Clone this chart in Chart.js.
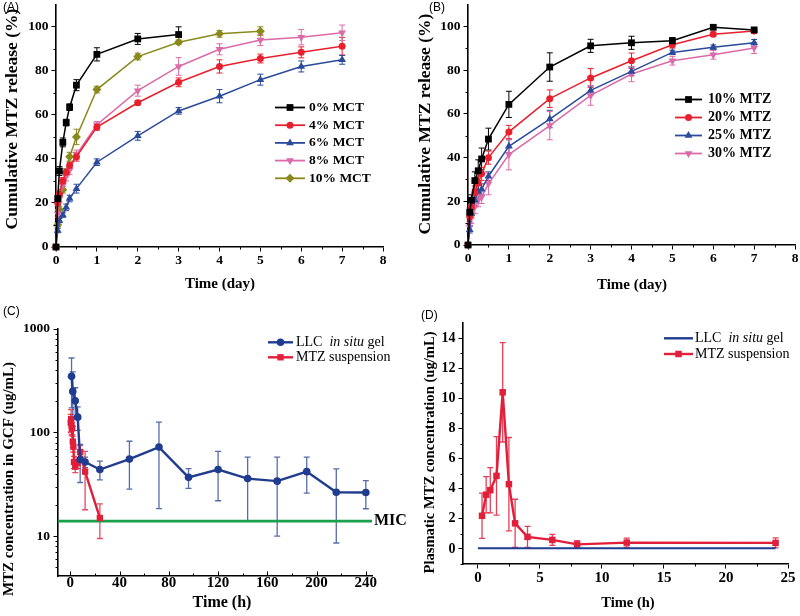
<!DOCTYPE html>
<html><head><meta charset="utf-8">
<script src="https://cdn.jsdelivr.net/npm/chart.js@4.4.1/dist/chart.umd.min.js"></script>
<style>
html,body{margin:0;padding:0;background:#fff;}
#wrap{position:relative;width:800px;height:616px;overflow:hidden;background:#fff;}
canvas{position:absolute;}
</style></head><body>
<div id="wrap">
<canvas id="cA" width="400" height="300" style="left:0;top:0"></canvas>
<canvas id="cB" width="400" height="300" style="left:400px;top:0"></canvas>
<canvas id="cD" width="400" height="316" style="left:400px;top:300px"></canvas>
<canvas id="cC" width="420" height="316" style="left:0;top:300px"></canvas>
</div>
<script>
// ---------------- DATA ----------------
// (A) release vs MCT content
const releaseTime = [0, 0.042, 0.083, 0.167, 0.25, 0.333, 0.5, 1, 2, 3, 4, 5, 6, 7];
const mctLabels = ['0% MCT', '4% MCT', '6% MCT', '8% MCT', '10% MCT'];
const mct0 = [0, 22, 34.5, 47.5, 56.5, 63.5, 73.5, 87.5, 94.5, 96.5];
const mct0Err = [0, 1.5, 2, 2, 1.5, 1.5, 2.5, 3, 2.5, 3.5];
const mct4 = [0, 20, 24, 30, 34, 37, 41, 54.5, 65.5, 74.8, 82, 85.6, 88.4, 91.2];
const mct4Err = [0, 1.5, 1.5, 1.5, 1.5, 1.5, 2, 1.5, 1, 2, 3, 2, 2.5, 4];
const mct6 = [0, 7.5, 12, 14.5, 18, 22, 26.5, 38.5, 50.5, 61.8, 68.5, 76, 82, 85];
const mct6Err = [0, 1, 1, 1, 1.5, 1.5, 2, 1.5, 2, 1.5, 3, 2.5, 2.5, 2];
const mct8 = [0, 15, 22, 28, 32, 35, 42, 55.5, 71, 82, 89.8, 94, 95.3, 97.3];
const mct8Err = [0, 1.5, 1.5, 1.5, 2, 2, 2, 1.5, 2.5, 4, 2.5, 2.5, 3.5, 3.5];
const mct10 = [0, 10, 17, 26, 34, 41, 50, 71.5, 86.5, 93, 96.8, 98];
const mct10Err = [0, 1, 1.5, 1.5, 1.5, 2, 3.5, 1.5, 1.5, 1, 1.5, 2];
// (B) release vs MTZ loading
const mtzLabels = ['10% MTZ', '20% MTZ', '25% MTZ', '30% MTZ'];
const mtz10 = [0, 15, 20.5, 29.5, 34, 39.4, 48.5, 64.4, 81.5, 91.2, 92.6, 93.5, 99.7, 98.5];
const mtz10Err = [0, 2, 2.5, 4, 5, 5, 5, 6, 6.5, 3, 3, 1.5, 1, 1];
const mtz20 = [0, 13, 17.4, 24, 28.3, 32.6, 40, 51.8, 67, 76.5, 84.4, 91.7, 96.5, 98];
const mtz20Err = [0, 2, 2.5, 3, 3, 3, 3, 3, 4, 4.3, 3.5, 1.5, 1, 1];
const mtz25 = [0, 7, 14.4, 20.5, 24.5, 25.5, 31.5, 45.2, 57.7, 70.8, 79.5, 88.2, 90.6, 92.6];
const mtz25Err = [0, 1.5, 2, 3, 3, 2.5, 2, 3, 4, 2, 2, 1, 1, 1.5];
const mtz30 = [0, 8.3, 12.9, 17.4, 20.5, 22, 28, 41.4, 54.7, 68.5, 78.3, 84.4, 87.1, 90.2];
const mtz30Err = [0, 2, 3, 3, 3, 3, 5, 7, 6.5, 4.5, 3.5, 2, 2, 2.5];
// (C) GCF concentration
const gcfLabels = ['LLC  <i>in situ</i> gel', 'MTZ suspension'];
const llcTime = [1, 2, 4, 6, 8, 12, 24, 48, 72, 96, 120, 144, 168, 192, 216, 240];
const llcGcf = [349, 250, 203, 141, 55, 52, 44, 55.5, 72.5, 37, 44, 36, 34, 42, 26.6, 26.4];
const llcGcfErr = [176, 135, 68, 36, 22, 6, 9, 27, 54, 8, 22, 22, 24, 16, 18, 8];
const suspTime = [0.333, 0.667, 1, 1.5, 2, 2.5, 3, 4, 6, 8, 12, 24];
const suspGcf = [125, 135, 115, 110, 82, 73, 52, 47, 51, 65, 42, 15];
const suspGcfErr = [25, 32, 20, 15, 10, 8, 7, 6, 6, 10, 24, 5.5];
const MIC = 14;
// (D) plasma concentration
const llcPlasmaTime = [0, 0.333, 0.667, 1, 1.5, 2, 2.5, 3, 4, 6, 8, 12, 24];
const llcPlasma = [0.05, 0.05, 0.05, 0.05, 0.05, 0.05, 0.05, 0.05, 0.05, 0.05, 0.05, 0.05, 0.05];
const suspPlasma = [2.2, 3.6, 3.9, 4.85, 10.4, 4.3, 1.7, 0.8, 0.6, 0.3, 0.42, 0.4];
const suspPlasmaErr = [1.5, 1.2, 1.5, 2.6, 3.3, 3.1, 1.6, 0.7, 0.37, 0.25, 0.3, 0.33];
// tick lists
const relXTicks = [0, 1, 2, 3, 4, 5, 6, 7, 8];
const relXMinor = [0.5, 1.5, 2.5, 3.5, 4.5, 5.5, 6.5, 7.5];
const relYTicks = [0, 20, 40, 60, 80, 100];
const relYMinor = [10, 30, 50, 70, 90];
const gcfXTicks = [0, 40, 80, 120, 160, 200, 240];
const gcfXMinor = [20, 60, 100, 140, 180, 220];
const gcfYTicks = [10, 100, 1000];
const gcfYMinor = [5, 6, 7, 8, 9, 20, 30, 40, 50, 60, 70, 80, 90, 200, 300, 400, 500, 600, 700, 800, 900];
const plaXTicks = [0, 5, 10, 15, 20, 25];
const plaXMinor = [2.5, 7.5, 12.5, 17.5, 22.5];
const plaYTicks = [0, 2, 4, 6, 8, 10, 12, 14];
const plaYMinor = [-1, 1, 3, 5, 7, 9, 11, 13];

// ---------------- STYLE ----------------
const SERIF = '"Liberation Serif", "Times New Roman", serif';
const SANS = '"Liberation Sans", Arial, sans-serif';
const COL = {black:'#000000', red:'#E8202E', blue:'#2A4B9B', pink:'#DB6AA8', olive:'#8A8A1C',
             navy:'#1F3C8F', cred:'#E11F3B', green:'#1BA04B'};

function xy(t, v){ return v.map((y,i)=>({x:t[i], y:y})); }

function series(label, t, v, err, color, style, radius, rot, width){
  return {label:label, data:xy(t,v), errors:err, borderColor:color, backgroundColor:color,
    pointBackgroundColor:color, pointBorderColor:color, pointBorderWidth:0,
    pointStyle:style, pointRadius:radius, pointRotation:rot||0, borderWidth:width||1.5,
    tension:0, fill:false, clip:false};
}

// ---------------- PLUGINS ----------------
const errorBars = {
  id:'errorBars',
  beforeDatasetsDraw(chart){
    const ctx=chart.ctx, ca=chart.chartArea, ys=chart.scales.y;
    ctx.save();
    ctx.beginPath(); ctx.rect(ca.left-5, ca.top-2, ca.right-ca.left+10, ca.bottom-ca.top+4); ctx.clip();
    chart.data.datasets.forEach((ds,i)=>{
      if(!ds.errors) return;
      const meta=chart.getDatasetMeta(i);
      ctx.strokeStyle = ds.errorColor || ds.borderColor;
      ctx.lineWidth = ds.errorWidth || 1;
      meta.data.forEach((pt,j)=>{
        const e=ds.errors[j]; if(!e) return;
        const v=ds.data[j].y;
        const lo = ys.type==='logarithmic' ? Math.max(v-e, ys.min*0.3) : v-e;
        const y1=ys.getPixelForValue(v+e), y2=ys.getPixelForValue(lo), x=pt.x, c=ds.capHalf||3;
        ctx.beginPath();
        ctx.moveTo(x,y1); ctx.lineTo(x,y2);
        ctx.moveTo(x-c,y1); ctx.lineTo(x+c,y1);
        ctx.moveTo(x-c,y2); ctx.lineTo(x+c,y2);
        ctx.stroke();
      });
    });
    ctx.restore();
  }
};

const decor = {
  id:'decor',
  beforeDatasetsDraw(chart, args, o){
    if(o.refLine){
      const ctx=chart.ctx, ca=chart.chartArea;
      const y=chart.scales.y.getPixelForValue(o.refLine.value);
      ctx.save();
      ctx.strokeStyle=o.refLine.color; ctx.lineWidth=o.refLine.width;
      ctx.beginPath(); ctx.moveTo(ca.left, y); ctx.lineTo(ca.right, y); ctx.stroke();
      ctx.fillStyle='#000'; ctx.font=o.refLine.font; ctx.textBaseline='middle'; ctx.textAlign='left';
      ctx.fillText(o.refLine.label, ca.right+o.refLine.dx, y);
      ctx.restore();
    }
  },
  afterDraw(chart, args, o){
    const ctx=chart.ctx, ca=chart.chartArea;
    ctx.save();
    // minor ticks (and inward major ticks where requested)
    ctx.strokeStyle='#000'; ctx.lineWidth=1;
    const dir = o.inwardX ? -1 : 1;
    (o.minorX||[]).forEach(v=>{
      const px=Math.round(chart.scales.x.getPixelForValue(v))+0.5;
      ctx.beginPath(); ctx.moveTo(px, ca.bottom); ctx.lineTo(px, ca.bottom+dir*o.minorLen); ctx.stroke();
    });
    (o.inwardMajorX||[]).forEach(v=>{
      const px=Math.round(chart.scales.x.getPixelForValue(v))+0.5;
      ctx.beginPath(); ctx.moveTo(px, ca.bottom); ctx.lineTo(px, ca.bottom-o.majorLen); ctx.stroke();
    });
    (o.minorY||[]).forEach(v=>{
      const py=Math.round(chart.scales.y.getPixelForValue(v))+0.5;
      ctx.beginPath(); ctx.moveTo(ca.left, py); ctx.lineTo(ca.left-o.minorLen, py); ctx.stroke();
    });
    // axis titles + panel label
    ctx.fillStyle='#000'; ctx.textBaseline='middle';
    if(o.xTitle){ ctx.font=o.xTitle.font; ctx.textAlign='center'; ctx.fillText(o.xTitle.text, o.xTitle.x, o.xTitle.y); }
    if(o.yTitle){ ctx.save(); ctx.translate(o.yTitle.x, o.yTitle.y); ctx.rotate(-Math.PI/2);
      ctx.font=o.yTitle.font; ctx.textAlign='center'; ctx.fillText(o.yTitle.text, 0, 0); ctx.restore(); }
    if(o.panel){ ctx.font=o.panel.font; ctx.textAlign='left'; ctx.fillText(o.panel.text, o.panel.x, o.panel.y); }
    // legend
    if(o.legend){
      const L=o.legend;
      chart.data.datasets.forEach((ds,i)=>{
        const y=L.y+i*L.step;
        ctx.strokeStyle=ds.borderColor; ctx.lineWidth=L.lineWidth;
        ctx.beginPath(); ctx.moveTo(L.x, y); ctx.lineTo(L.x+L.len, y); ctx.stroke();
        if(ds.pointRadius>0){
          ctx.fillStyle=ds.pointBackgroundColor;
          Chart.helpers.drawPoint(ctx, {pointStyle:ds.pointStyle, rotation:ds.pointRotation||0,
            radius:ds.pointRadius, borderWidth:0}, L.x+L.len/2, y);
        }
        ctx.fillStyle='#000'; ctx.textAlign='left'; ctx.textBaseline='middle';
        let tx=L.x+L.len+L.gap;
        const parts=ds.label.split(/(<i>.*?<\/i>)/).filter(s=>s.length);
        parts.forEach(p=>{
          let txt=p, f=L.font;
          if(p.startsWith('<i>')){ txt=p.replace(/<\/?i>/g,''); f='italic '+L.font; }
          ctx.font=f; ctx.fillText(txt, tx, y); tx+=ctx.measureText(txt).width;
        });
      });
    }
    ctx.restore();
  }
};

function axis(kind, o){
  return {
    type:o.type||'linear', min:o.min, max:o.max,
    afterBuildTicks: s=>{ s.ticks=o.ticks.map(v=>({value:v})); },
    afterFit: s=>{
      if(kind==='x') s.height=o.size; else s.width=o.size;
      s.paddingTop=0; s.paddingBottom=0; s.paddingLeft=0; s.paddingRight=0;
    },
    ticks:{ font:{family:SERIF, size:o.font, weight:'bold'}, color:'#000', padding:o.pad,
      autoSkip:false, maxRotation:0, minRotation:0, callback:v=>String(v) },
    grid:{ display:true, drawOnChartArea:false, drawTicks:o.noTicks?false:true, tickLength:o.tl||4.5, color:'#000', lineWidth:1 },
    border:{ display:true, color:'#000', width:1.6 },
    title:{display:false}
  };
}

function baseOptions(pad, scales, decorOpts){
  return {
    responsive:false, animation:false, devicePixelRatio:1, events:[],
    layout:{padding:pad},
    scales:scales,
    plugins:{legend:{display:false}, tooltip:{enabled:false}, decor:decorOpts}
  };
}

// ---------------- PANEL A ----------------
new Chart(document.getElementById('cA'), {
  type:'line',
  data:{datasets:[
    series(mctLabels[0], releaseTime, mct0, mct0Err, COL.black, 'rect', 4.8),
    series(mctLabels[1], releaseTime, mct4, mct4Err, COL.red, 'circle', 3.5),
    series(mctLabels[2], releaseTime, mct6, mct6Err, COL.blue, 'triangle', 4.5),
    series(mctLabels[3], releaseTime, mct8, mct8Err, COL.pink, 'triangle', 4.5, 180),
    series(mctLabels[4], releaseTime, mct10, mct10Err, COL.olive, 'rectRot', 4.5)
  ]},
  options:baseOptions({left:0, top:4, right:17, bottom:0}, {
    x:axis('x',{min:0, max:8, ticks:relXTicks, size:53, font:13.5, pad:1}),
    y:axis('y',{min:0, max:110, ticks:relYTicks, size:56, font:13.5, pad:3})
  }, {
    minorX:relXMinor, minorY:relYMinor, minorLen:2.5,
    xTitle:{text:'Time (day)', x:220, y:284, font:'bold 15px '+SERIF},
    yTitle:{text:'Cumulative MTZ release (%)', x:12.5, y:119, font:'bold 17.5px '+SERIF},
    panel:{text:'(A)', x:3, y:8, font:'12px '+SANS},
    legend:{x:275, y:107.5, step:17.7, len:30, gap:4, lineWidth:1.8, font:'bold 13.5px '+SERIF}
  }),
  plugins:[errorBars, decor]
});

// ---------------- PANEL B ----------------
new Chart(document.getElementById('cB'), {
  type:'line',
  data:{datasets:[
    series(mtzLabels[0], releaseTime, mtz10, mtz10Err, COL.black, 'rect', 4.8),
    series(mtzLabels[1], releaseTime, mtz20, mtz20Err, COL.red, 'circle', 3.5),
    series(mtzLabels[2], releaseTime, mtz25, mtz25Err, COL.blue, 'triangle', 4.5),
    series(mtzLabels[3], releaseTime, mtz30, mtz30Err, COL.pink, 'triangle', 4.5, 180)
  ]},
  options:baseOptions({left:0, top:3, right:5, bottom:0}, {
    x:axis('x',{min:0, max:8, ticks:relXTicks, size:55, font:13.5, pad:1}),
    y:axis('y',{min:0, max:110, ticks:relYTicks, size:68, font:13.5, pad:3})
  }, {
    minorX:relXMinor, minorY:relYMinor, minorLen:2.5,
    xTitle:{text:'Time (day)', x:232, y:285, font:'bold 15px '+SERIF},
    yTitle:{text:'Cumulative MTZ release (%)', x:25, y:124, font:'bold 17.5px '+SERIF},
    panel:{text:'(B)', x:29, y:8, font:'12px '+SANS},
    legend:{x:275, y:99.5, step:18, len:27, gap:6, lineWidth:1.8, font:'bold 14px '+SERIF}
  }),
  plugins:[errorBars, decor]
});

// ---------------- PANEL C ----------------
const cLLC = series(gcfLabels[0], llcTime, llcGcf, llcGcfErr, COL.navy, 'circle', 3.8, 0, 2.4);
cLLC.errorColor = 'rgba(31,60,143,0.75)'; cLLC.errorWidth = 1.3;
const cSus = series(gcfLabels[1], suspTime, suspGcf, suspGcfErr, COL.cred, 'rect', 4.5, 0, 2.4);
cSus.errorColor = 'rgba(225,31,59,0.8)'; cSus.errorWidth = 1.3;
new Chart(document.getElementById('cC'), {
  type:'line',
  data:{datasets:[cLLC, cSus]},
  options:baseOptions({left:0, top:29, right:48, bottom:0}, {
    x:axis('x',{min:-10, max:245, ticks:gcfXTicks, size:40, font:15, pad:-2, noTicks:true}),
    y:axis('y',{type:'logarithmic', min:4.13, max:1000, ticks:gcfYTicks, size:58, font:13.5, pad:3.5})
  }, {
    minorX:gcfXMinor, inwardX:true, inwardMajorX:gcfXTicks, majorLen:4.5,
    minorY:gcfYMinor, minorLen:2.5,
    refLine:{value:MIC, color:COL.green, width:2.8, label:'MIC', font:'bold 16px '+SERIF, dx:2},
    xTitle:{text:'Time (h)', x:222, y:303, font:'bold 16px '+SERIF},
    yTitle:{text:'MTZ concentration in GCF (ug/mL)', x:9, y:179, font:'bold 15px '+SERIF},
    panel:{text:'(C)', x:3, y:12, font:'12px '+SANS},
    legend:{x:268, y:42.3, step:15, len:25, gap:3, lineWidth:2.4, font:'14px '+SERIF}
  }),
  plugins:[errorBars, decor]
});

// ---------------- PANEL D ----------------
const dLLC = series(gcfLabels[0], llcPlasmaTime, llcPlasma, null, COL.navy, 'circle', 0, 0, 2);
const dSus = series(gcfLabels[1], suspTime, suspPlasma, suspPlasmaErr, COL.cred, 'rect', 4.6, 0, 2.4);
dSus.errorColor = 'rgba(225,31,59,0.85)'; dSus.errorWidth = 1.3;
new Chart(document.getElementById('cD'), {
  type:'line',
  data:{datasets:[dLLC, dSus]},
  options:baseOptions({left:0, top:23, right:12, bottom:0}, {
    x:axis('x',{min:-1.2, max:25, ticks:plaXTicks, size:52, font:15, pad:1}),
    y:axis('y',{min:-1, max:15, ticks:plaYTicks, size:63, font:14, pad:3})
  }, {
    minorX:plaXMinor, minorY:plaYMinor, minorLen:2.5,
    xTitle:{text:'Time (h)', x:228, y:303, font:'bold 14.5px '+SERIF},
    yTitle:{text:'Plasmatic MTZ concentration (ug/mL)', x:30, y:152.5, font:'bold 14.6px '+SERIF},
    panel:{text:'(D)', x:21, y:16, font:'12px '+SANS},
    legend:{x:264, y:38.3, step:15.7, len:29, gap:2, lineWidth:2.4, font:'14px '+SERIF}
  }),
  plugins:[errorBars, decor]
});
</script>
</body></html>
